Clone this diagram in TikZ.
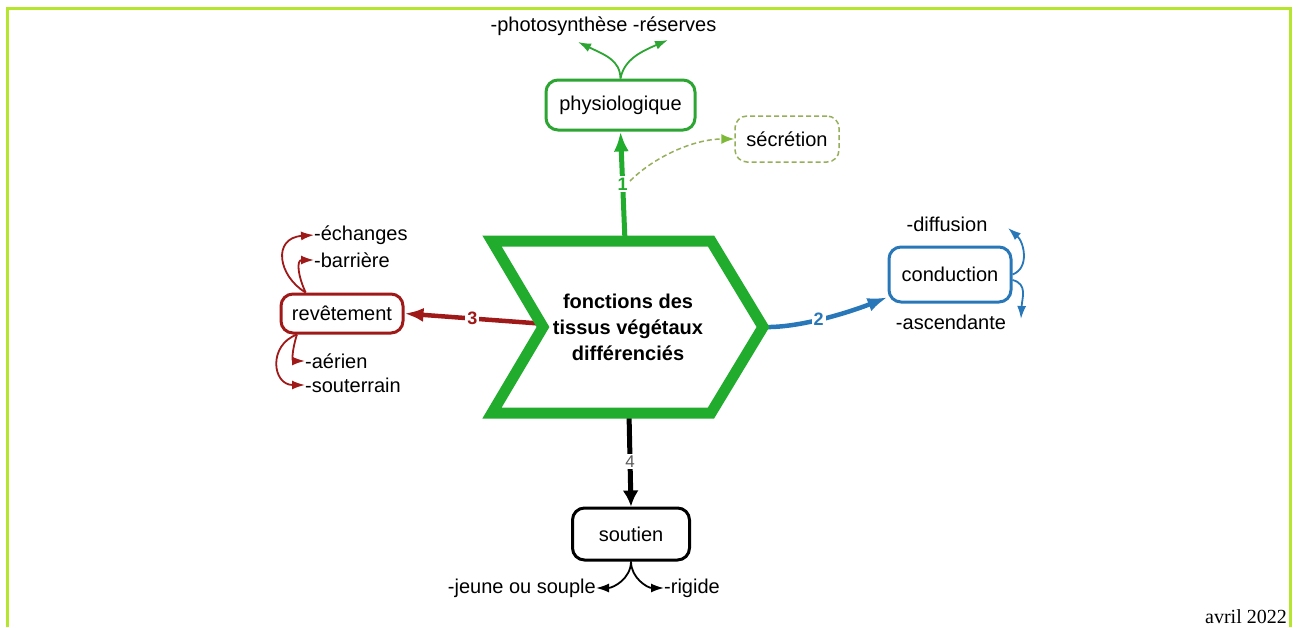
\documentclass[tikz,border=0pt]{standalone}
\usepackage{fontspec}
\setmainfont{Liberation Sans}
\newfontfamily\datefont{Liberation Serif}
\usetikzlibrary{arrows.meta}
\definecolor{frameg}{RGB}{181,230,45}
\definecolor{chev}{RGB}{34,172,46}
\definecolor{physg}{RGB}{44,165,50}
\definecolor{secg}{RGB}{150,175,90}
\definecolor{secarr}{RGB}{125,185,55}
\definecolor{revc}{RGB}{160,25,25}
\definecolor{condc}{RGB}{40,120,185}
\definecolor{labgray}{RGB}{90,90,90}
\begin{document}
\begin{tikzpicture}[x=1pt,y=-1pt,
  every node/.style={font=\fontsize{20}{24}\selectfont, inner sep=0pt},
  box/.style={draw, line width=3pt, rounded corners=12pt, align=center, fill=white},
  bigarrow/.style={line width=5pt, -{Latex[length=20pt,width=15pt]}},
  smallarrow/.style={line width=1.8pt, -{Latex[length=13pt,width=9pt]}},
  longdash/.style={dash pattern=on 5pt off 3pt},
  lab/.style={fill=white, inner sep=2pt, font=\fontsize{18}{20}\selectfont\bfseries}]
\useasboundingbox (0,0) rectangle (1293,627);
\fill[white] (0,0) rectangle (1293,627);
% frame
\draw[frameg, line width=3pt] (7,627) -- (7,8.5) -- (1290.5,8.5) -- (1290.5,627);

% nodes
\node[box, draw=physg, minimum width=149, minimum height=50] (phys) at (620.5,105) {physiologique};
\node[box, draw=secg, longdash, line width=1.5pt, minimum width=104, minimum height=46] (sec) at (787,139) {sécrétion};
\node[box, draw=revc, minimum width=122, minimum height=39] (rev) at (342,313.5) {revêtement};
\node[box, draw=condc, minimum width=122, minimum height=55] (cond) at (950,274.5) {conduction};
\node[box, draw=black, minimum width=117, minimum height=52] (sout) at (631,534) {soutien};

% chevron anchor points
\coordinate (ctop) at (625,241);
\coordinate (cleft) at (546,324);
\coordinate (cright) at (764,327);
\coordinate (cbot) at (629,413);
\coordinate (s1) at (630,181);

% connectors
\draw[bigarrow, chev] (ctop) -- node[lab, text=chev, pos=0.52] (l1) {1} (phys.south);
\draw[secg, line width=1.5pt, longdash, -{Latex[length=13pt,width=10pt,color=secarr]}] (s1) .. controls (655,156) and (695,139) .. (sec.west);
\draw[revc, line width=4.5pt, -{Latex[length=19pt,width=14pt]}] (cleft) -- node[lab, text=revc, pos=0.52] (l3) {3} (rev.east);
\draw[condc, line width=4.5pt, -{Latex[length=20pt,width=14pt]}] (cright) .. controls (800,328) and (850,312) .. node[lab, text=condc, pos=0.45] (l2) {2} (cond.200);
\draw[black, line width=5pt, -{Latex[length=16pt,width=16pt]}] (cbot) -- node[lab, text=labgray, font=\fontsize{17}{20}\selectfont, pos=0.52] (l4) {4} (sout.north);

% chevron
\draw[chev, line width=11pt, line join=miter, fill=white] (492,241) -- (711,241) -- (763,327) -- (711,413) -- (492,413) -- (543,327) -- cycle;
\node[font=\fontsize{20}{26}\selectfont\bfseries, align=center] (main) at (628,327) {fonctions des\\tissus végétaux\\différenciés};

% side texts
\node (photo) at (603.5,26) {-photosynthèse -réserves};
\coordinate (pl) at (578,42);
\coordinate (pr) at (668,40);
\draw[physg, smallarrow] (phys.north) .. controls (620,60) and (605,55) .. (pl);
\draw[physg, smallarrow] (phys.north) .. controls (624,60) and (640,52) .. (pr);

\node[anchor=west] (ech) at (314,235) {-échanges};
\node[anchor=west] (bar) at (314,260) {-barrière};
\node[anchor=west] (aer) at (305,361) {-aérien};
\node[anchor=west] (sou) at (305,385) {-souterrain};
\draw[revc, smallarrow] (rev.150) .. controls (278,276) and (272,238) .. (ech.west);
\draw[revc, smallarrow] (rev.150) .. controls (298,276) and (296,260) .. (bar.west);
\draw[revc, smallarrow] (rev.205) .. controls (292,350) and (292,361) .. (aer.west);
\draw[revc, smallarrow] (rev.205) .. controls (268,345) and (272,385) .. (sou.west);

\node (dif) at (947,224) {-diffusion};
\node (asc) at (951,322) {-ascendante};
\coordinate (cu) at (1008,228);
\coordinate (cd) at (1021,319);
\draw[condc, smallarrow] (cond.east) .. controls (1030,268) and (1024,242) .. (cu);
\draw[condc, smallarrow] (cond.-5) .. controls (1028,284) and (1022,298) .. (cd);

\node[anchor=east] (jeu) at (596,588) {-jeune ou souple};
\node[anchor=west] (rig) at (664,588) {-rigide};
\draw[black, smallarrow] (sout.south) to[out=-90,in=0] (jeu.east);
\draw[black, smallarrow] (sout.south) to[out=-90,in=180] (rig.west);

\node[anchor=base east, font=\fontsize{20}{24}\selectfont\datefont] (date) at (1287,623) {avril 2022};
\end{tikzpicture}
\end{document}
